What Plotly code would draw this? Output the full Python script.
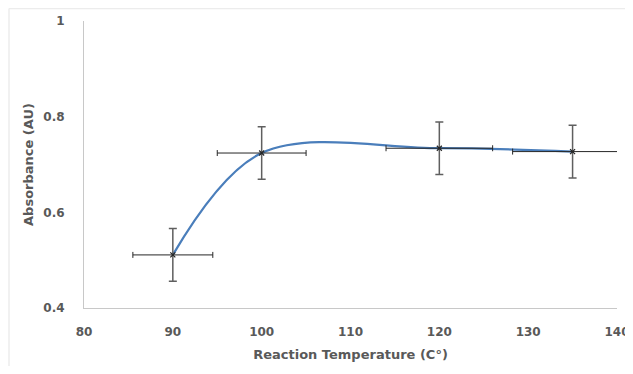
import plotly.graph_objects as go

temperature = [90, 100, 120, 135]
absorbance = [0.511, 0.724, 0.734, 0.727]
abs_error = [0.055, 0.055, 0.055, 0.055]
temp_error_pct = 5  # percent

x_ticks = [80, 90, 100, 110, 120, 130, 140]
y_ticks = [0.4, 0.6, 0.8, 1]

# page body has an 8px margin in the browser, so the figure is offset by 8px;
# keep the figure small enough that the page does not overflow the window
OFF = 8
W, H = 633 - OFF, 374 - 2 * OFF
L, T = 84 - OFF, 21 - OFF
R = W - (617 - OFF)
B = H - (308 - OFF)
pw, ph = W - L - R, H - T - B

fig = go.Figure()
fig.add_trace(go.Scatter(
    x=temperature, y=absorbance,
    mode="lines",
    line=dict(color="#4a7ebb", width=2.25, shape="spline", smoothing=1.0),
    hoverinfo="skip", showlegend=False,
))
fig.add_trace(go.Scatter(
    x=temperature, y=absorbance,
    mode="markers",
    marker=dict(symbol="x-thin", size=5, line=dict(color="#262626", width=1.2), color="#262626"),
    error_y=dict(type="data", array=abs_error, color="#5f5f5f", thickness=1.5, width=4),
    error_x=dict(type="percent", value=temp_error_pct, color="#262626", thickness=1, width=3),
    showlegend=False,
))

FONT = "DejaVu Sans"
tickfont = dict(family=FONT, size=12, color="#595959", weight="bold")
titlefont = dict(family=FONT, size=13, color="#595959", weight="bold")
fig.update_layout(
    width=W, height=H,
    margin=dict(l=L, r=R, t=T, b=B),
    paper_bgcolor="white", plot_bgcolor="white",
    xaxis=dict(range=[80, 140], tickvals=x_ticks, showgrid=False, zeroline=False,
               showline=True, linecolor="#c8c8c8", linewidth=1, ticks="",
               tickfont=tickfont, ticklabelstandoff=13, automargin=False,
               title=dict(text="Reaction Temperature (C°)", standoff=11, font=titlefont)),
    yaxis=dict(range=[0.4, 1], tickvals=y_ticks, showgrid=False, zeroline=False,
               showline=True, linecolor="#c8c8c8", linewidth=1, ticks="",
               tickfont=tickfont, ticklabelstandoff=16, automargin=False,
               title=dict(text="Absorbance (AU)", standoff=6, font=titlefont)),
    shapes=[
        dict(type="line", xref="paper", yref="paper",
             x0=(1 - L) / pw, x1=(W + 5 - L) / pw,
             y0=(H - B - 0.5) / ph, y1=(H - B - 0.5) / ph,
             line=dict(color="#ececec", width=1.5)),
        dict(type="line", xref="paper", yref="paper",
             x0=(1 - L) / pw, x1=(1 - L) / pw,
             y0=(H - B - 0.5) / ph, y1=(H - B - H - 5) / ph,
             line=dict(color="#ececec", width=1.5)),
    ],
)
fig.write_html("out.html")
